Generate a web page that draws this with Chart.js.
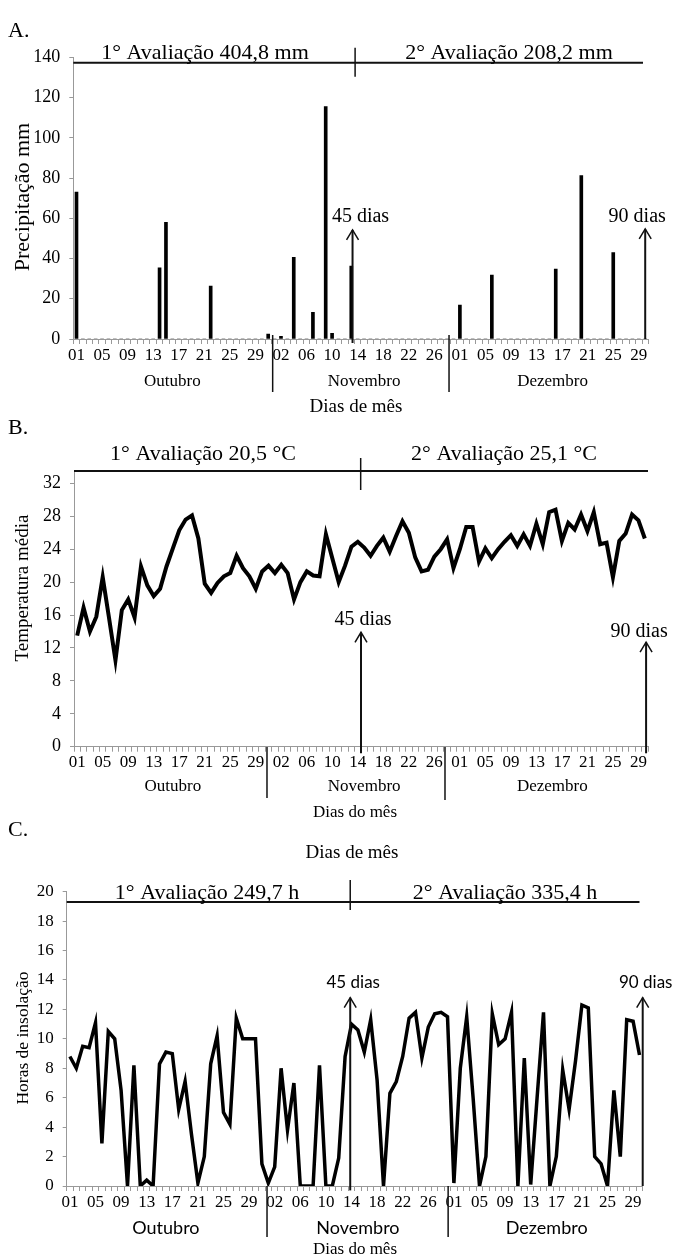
<!DOCTYPE html>
<html>
<head>
<meta charset="utf-8">
<script src="https://cdn.jsdelivr.net/npm/chart.js@4.4.1/dist/chart.umd.min.js"></script>
<style>
  body { margin: 0; background: #fff; }
  #wrap { position: relative; width: 673px; height: 1260px; }
  canvas { position: absolute; left: 0; }
</style>
</head>
<body>
<div id="wrap">
  <canvas id="chartA" width="673" height="420" style="top:0"></canvas>
  <canvas id="chartB" width="673" height="400" style="top:420px"></canvas>
  <canvas id="chartC" width="673" height="440" style="top:820px"></canvas>
</div>
<script>
// dias do mês (Out 31, Nov 29, Dez 30)
const diasOut = ['01','02','03','04','05','06','07','08','09','10','11','12','13','14','15','16','17','18','19','20','21','22','23','24','25','26','27','28','29','30','31'];
const diasNov = ['01','02','03','04','05','06','07','08','09','10','11','12','13','14','15','16','17','18','19','20','21','22','23','24','25','26','27','28','29'];
const diasDez = ['01','02','03','04','05','06','07','08','09','10','11','12','13','14','15','16','17','18','19','20','21','22','23','24','25','26','27','28','29','30'];
const dias = diasOut.concat(diasNov, diasDez);
const meses = ['Outubro', 'Novembro', 'Dezembro'];

// precipitação (mm)
const precOut = [73,0,0,0,0,0,0,0,0,0,0,0,0,35.4,58,0,0,0,0,0,0,26.3,0,0,0,0,0,0,0,0,2.5];
const precNov = [0,1.3,0,40.6,0,0,13.3,0,115.5,2.8,0,0,36.3,0,0,0,0,0,0,0,0,0,0,0,0,0,0,0,0];
const precDez = [16.9,0,0,0,0,31.8,0,0,0,0,0,0,0,0,0,34.8,0,0,0,81.2,0,0,0,0,42.9,0,0,0,0,0];

// temperatura média (°C)
const tempOut = [13.5,16.9,14.0,15.8,20.6,15.6,10.5,16.6,17.9,15.7,21.9,19.6,18.3,19.2,21.9,24.1,26.3,27.6,28.1,25.3,19.8,18.7,19.9,20.7,21.1,23.2,21.7,20.7,19.2,21.3,22.0];
const tempNov = [21.1,22.1,21.1,17.9,20.0,21.3,20.8,20.7,25.8,22.9,20.0,22.0,24.3,24.9,24.2,23.2,24.4,25.4,23.7,25.6,27.4,26.0,23.0,21.3,21.5,23.1,24.0,25.2,21.7];
const tempDez = [24.0,26.7,26.7,22.5,24.1,22.9,24.0,24.9,25.7,24.4,25.8,24.4,27.1,24.6,28.5,28.8,25.0,27.2,26.4,28.2,26.2,28.5,24.6,24.8,20.6,25.0,25.9,28.2,27.5,25.3];

// horas de insolação (h)
const insOut = [8.8,8.0,9.5,9.4,11.1,2.9,10.5,10.0,6.5,0,8.2,0,0.4,0,8.3,9.1,9.0,5.2,7.1,3.5,0.2,2.0,8.3,10.2,5.0,4.2,11.4,10.0,10.0,10.0,1.5];
const insNov = [0.2,1.3,8.0,3.8,7.0,0,0,0,8.2,0,0,1.9,8.8,11.0,10.6,9.1,11.3,7.2,0,6.3,7.1,8.8,11.4,11.8,8.7,10.8,11.7,11.8,11.5];
const insDez = [0.2,8.0,11.5,6.0,0,2.0,11.7,9.6,10.0,11.8,0,8.7,0.1,6.0,11.8,0,2.0,7.9,5.2,8.5,12.3,12.1,2.0,1.5,0,6.5,2.0,11.3,11.2,8.9];

const serif = "'Liberation Serif', 'Times New Roman', serif";
const sans = "Lato, 'Liberation Sans', sans-serif";

function txt(ctx, s, x, y, size, family, align, baseline, rot) {
  ctx.save();
  ctx.font = size + 'px ' + family;
  ctx.textAlign = align || 'center';
  ctx.textBaseline = baseline || 'middle';
  ctx.translate(x, y);
  if (rot) ctx.rotate(rot);
  ctx.fillText(s, 0, 0);
  ctx.restore();
}

// annotations: letter, totals, month names, separators, arrows
function decor(d) {
  return {
    id: 'decor',
    afterDraw(chart) {
      const ctx = chart.ctx;
      const ca = chart.chartArea;
      const x = chart.scales.x, y = chart.scales.y;
      ctx.save();
      ctx.fillStyle = '#000';
      ctx.strokeStyle = '#111';

      txt(ctx, d.letter, 8, d.letterY, 22, serif, 'left');
      if (d.title) txt(ctx, d.title[0], d.title[1], d.title[2], 19, serif);

      // linha das avaliações
      const ly = y.getPixelForValue(d.topValue);
      ctx.lineWidth = 2;
      ctx.beginPath(); ctx.moveTo(ca.left, ly); ctx.lineTo(d.topEnd, ly); ctx.stroke();
      const tx = x.getPixelForValue(d.topTick[0]);
      ctx.lineWidth = 1.5;
      ctx.beginPath(); ctx.moveTo(tx, d.topTick[1]); ctx.lineTo(tx, d.topTick[2]); ctx.stroke();
      d.totals.forEach(t => txt(ctx, t[0], t[1], d.totalsY, 22, serif, 'center', 'alphabetic'));

      // títulos dos eixos
      txt(ctx, d.yTitle[0], d.yTitle[1], d.yTitle[2], d.yTitle[3], serif, 'center', 'middle', -Math.PI / 2);
      txt(ctx, d.xTitle[0], d.xTitle[1], d.xTitle[2], d.xTitle[3], serif);

      // meses e divisórias
      const centers = [15, 45, 74.5];
      meses.forEach((m, i) => txt(ctx, m, x.getPixelForValue(centers[i]), d.monthY, d.monthFont[0], d.monthFont[1]));
      ctx.lineWidth = 1.5;
      d.seps.forEach(s => {
        const sx = x.getPixelForValue(s[0]);
        ctx.beginPath(); ctx.moveTo(sx, s[1]); ctx.lineTo(sx, s[2]); ctx.stroke();
      });

      // setas 45 / 90 dias
      d.arrows.forEach(a => {
        const ax = x.getPixelForValue(a.idx);
        const top = y.getPixelForValue(a.tip), bot = y.getPixelForValue(a.base);
        ctx.lineWidth = 2;
        ctx.beginPath(); ctx.moveTo(ax, bot); ctx.lineTo(ax, top); ctx.stroke();
        ctx.lineWidth = 1.5;
        ctx.beginPath(); ctx.moveTo(ax - 6, top + 10); ctx.lineTo(ax, top); ctx.lineTo(ax + 6, top + 10); ctx.stroke();
        txt(ctx, a.label, ax + a.dx, top + a.dy, d.arrowFont[0], d.arrowFont[1]);
      });
      ctx.restore();
    }
  };
}

function scalesFor(area, yMin, yMax, step, tickSize) {
  return {
    x: {
      type: 'category',
      offset: true,
      grid: { offset: true, drawOnChartArea: false, tickLength: 5, color: '#999', lineWidth: 1 },
      border: { color: '#999', dash: [1, 1] },
      ticks: {
        autoSkip: false, maxRotation: 0, minRotation: 0, padding: 1,
        color: '#000', font: { family: serif, size: 17 },
        callback: (v, i) => (i % 4 === 0 ? dias[i] : '')
      },
      afterFit: s => { s.height = area.xh; }
    },
    y: {
      min: yMin, max: yMax,
      ticks: { stepSize: step, includeBounds: false, padding: 9, color: '#000', font: { family: serif, size: tickSize } },
      grid: { drawOnChartArea: false, tickLength: 4, color: '#999' },
      border: { color: '#999', dash: [1, 1] },
      afterFit: s => { s.width = area.left; }
    }
  };
}

function opts(area, yMin, yMax, step, tickSize) {
  return {
    responsive: false,
    animation: false,
    layout: { padding: { left: 0, right: area.right, top: area.top, bottom: 0 } },
    plugins: { legend: { display: false }, tooltip: { enabled: false } },
    scales: scalesFor(area, yMin, yMax, step, tickSize)
  };
}

// A. Precipitação
new Chart(document.getElementById('chartA'), {
  type: 'bar',
  data: {
    labels: dias,
    datasets: [{ data: precOut.concat(precNov, precDez), backgroundColor: '#000', barThickness: 3 }]
  },
  options: opts({ left: 73.3, right: 24.6, top: 57.3, xh: 81 }, 0, 140, 20, 18),
  plugins: [decor({
    letter: 'A.', letterY: 31,
    topValue: 137.3, topEnd: 643, topTick: [43.6, 47.7, 76.7],
    totals: [['1° Avaliação 404,8 mm', 205], ['2° Avaliação 208,2 mm', 509]], totalsY: 59,
    yTitle: ['Precipitação mm', 23, 197, 22],
    xTitle: ['Dias de mês', 356, 407, 19],
    monthY: 381.7, monthFont: [17, serif],
    seps: [[30.7, 335, 392], [58.3, 335, 392]],
    arrowFont: [20, serif],
    arrows: [
      { idx: 43.2, tip: 54.2, base: -2, label: '45 dias', dx: 8, dy: -13 },
      { idx: 89.0, tip: 54.7, base: 0, label: '90 dias', dx: -8, dy: -12 }
    ]
  })]
});

// B. Temperatura média
new Chart(document.getElementById('chartB'), {
  type: 'line',
  data: {
    labels: dias,
    datasets: [{ data: tempOut.concat(tempNov, tempDez), borderColor: '#000', borderWidth: 4, pointRadius: 0, tension: 0 }]
  },
  options: opts({ left: 74, right: 25, top: 51, xh: 73.3 }, 0, 33.5, 4, 18),
  plugins: [decor({
    letter: 'B.', letterY: 8,
    topValue: 33.5, topEnd: 648, topTick: [44.45, 38, 70],
    totals: [['1° Avaliação 20,5 °C', 203], ['2° Avaliação 25,1 °C', 504]], totalsY: 39.5,
    yTitle: ['Temperatura média', 23, 168, 19],
    xTitle: ['Dias do mês', 355, 393, 17],
    monthY: 367, monthFont: [17, serif],
    seps: [[29.76, 327, 378], [57.67, 327, 380]],
    arrowFont: [20, serif],
    arrows: [
      { idx: 44.5, tip: 13.9, base: -0.8, label: '45 dias', dx: 2, dy: -13 },
      { idx: 89.2, tip: 12.7, base: -0.8, label: '90 dias', dx: -7, dy: -10 }
    ]
  })]
});

// C. Horas de insolação
new Chart(document.getElementById('chartC'), {
  type: 'line',
  data: {
    labels: dias,
    datasets: [{ data: insOut.concat(insNov, insDez), borderColor: '#000', borderWidth: 3.5, pointRadius: 0, tension: 0 }]
  },
  options: opts({ left: 66.7, right: 30.3, top: 71.7, xh: 74 }, 0, 20, 2, 17),
  plugins: [decor({
    letter: 'C.', letterY: 10,
    title: ['Dias de mês', 352, 33],
    topValue: 19.3, topEnd: 639.5, topTick: [43.8, 60, 90],
    totals: [['1° Avaliação 249,7 h', 207], ['2° Avaliação 335,4 h', 505]], totalsY: 79,
    yTitle: ['Horas de insolação', 23, 218, 17.5],
    xTitle: ['Dias do mês', 355, 430, 17],
    monthY: 408, monthFont: [18, sans],
    seps: [[30.8, 366, 417], [59.1, 366, 417]],
    arrowFont: [17, sans],
    arrows: [
      { idx: 43.8, tip: 12.8, base: -0.3, label: '45 dias', dx: 3, dy: -15 },
      { idx: 89.5, tip: 12.8, base: 0, label: '90 dias', dx: 3, dy: -15 }
    ]
  })]
});
</script>
</body>
</html>
